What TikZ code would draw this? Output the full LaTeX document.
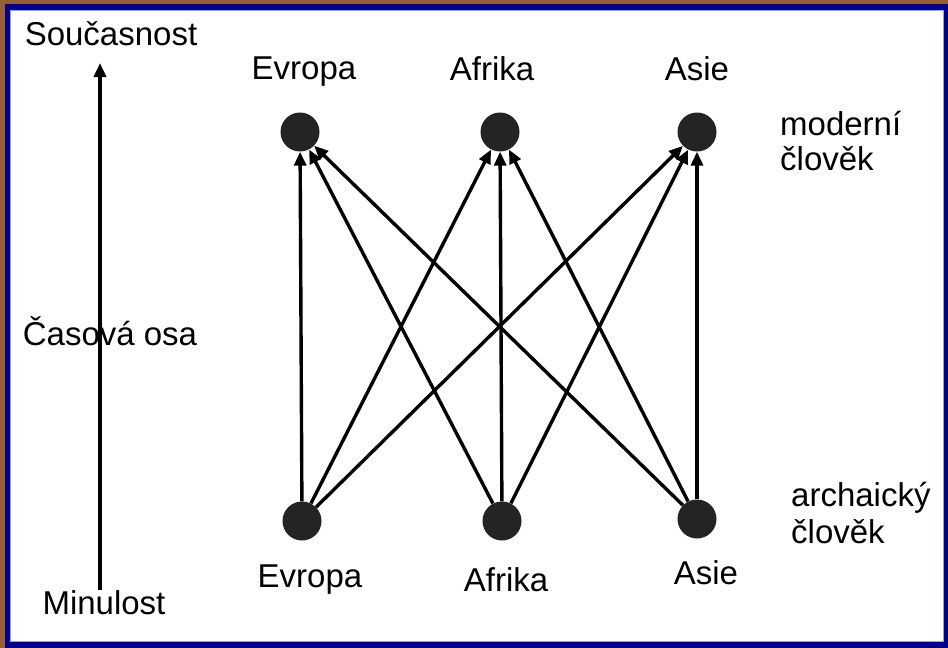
\documentclass[tikz,border=0pt]{standalone}
\usepackage{fontspec}
\setmainfont{Liberation Sans}
\usetikzlibrary{arrows.meta, positioning}
\tikzset{>={Triangle[width=12pt,length=14pt]}}
\definecolor{framebrown}{RGB}{150,95,55}
\definecolor{frameblue}{RGB}{0,0,138}
\definecolor{dotgray}{RGB}{36,36,36}

\begin{document}
\begin{tikzpicture}[x=1pt, y=-1pt, on grid,
  dot/.style = {circle, fill=dotgray, minimum size=39pt, inner sep=0pt},
  txt/.style = {font=\fontsize{33}{35}\selectfont, inner sep=0pt},
  edgeline/.style = {line width=3.4pt}]
			\useasboundingbox (0,0) rectangle (948,648);
			% frame
			\fill[framebrown] (0,0) rectangle (948,648);
			\fill[frameblue] (5,4) rectangle (948,648);
			\fill[white] (10,10) rectangle (943,641);
			\draw[blue!40, line width=1pt] (10,10) rectangle (943,641);
			% time axis
			\node (now) [txt] at (111,34) {Současnost};
			\node (axis) [txt] at (110,331) {Časová osa};
			\node (past) [txt] at (104,603) {Minulost};
			\coordinate (axtop) at (100,63);
			\coordinate (axbot) at (100,590);
			\draw[->, edgeline] (axbot) -- (axtop);
			% modern humans
			\node (te) [dot] at (300,132) {};
			\node (ta) [dot, right = 200pt of te] {};
			\node (ts) [dot, right = 197pt of ta] {};
			\node (lte) [txt, above = 60pt of te, xshift=4pt] {Evropa};
			\node (lta) [txt, above = 63pt of ta, xshift=-8pt] {Afrika};
			\node (lts) [txt, above = 63pt of ts] {Asie};
			\node (mod) [txt, align=left, anchor=west] at (780,141) {moderní\\člověk};
			% archaic humans
			\node (be) [dot, below = 389pt of te, xshift=2pt] {};
			\node (ba) [dot, below = 389pt of ta, xshift=2pt] {};
			\node (bs) [dot, below = 387pt of ts] {};
			\node (lbe) [txt, below = 59pt of be, xshift=8pt] {Evropa};
			\node (lba) [txt, below = 59pt of ba, xshift=4pt] {Afrika};
			\node (lbs) [txt, below = 54pt of bs, xshift=9pt] {Asie};
			\node (arc) [txt, align=left, anchor=west] at (791,513) {archaický\\[2pt]člověk};
			% links
			\path[->, edgeline]
			(be) edge (te)
			(be) edge (ta)
			(be) edge (ts)
			(ba) edge (te)
			(ba) edge (ta)
			(ba) edge (ts)
			(bs) edge (te)
			(bs) edge (ta)
			(bs) edge (ts);
\end{tikzpicture}
\end{document}
